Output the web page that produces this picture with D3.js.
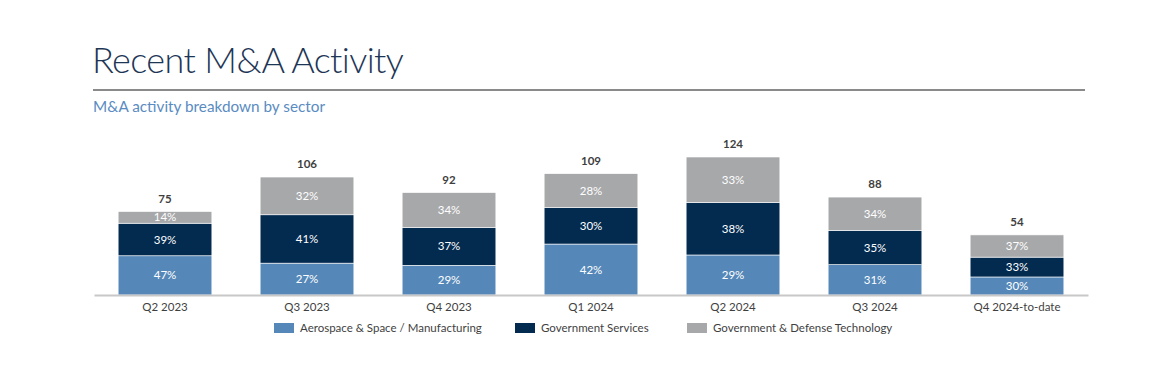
<!DOCTYPE html>
<html><head><meta charset="utf-8">
<script src="https://cdn.jsdelivr.net/npm/d3@7"></script>
<style>
body{margin:0;background:#fff;}
svg{display:block;font-family:"Lato","Open Sans",sans-serif;}
</style></head>
<body><svg id="c" width="1171" height="380"></svg>
<script>
const categories = ["Q2 2023","Q3 2023","Q4 2023","Q1 2024","Q2 2024","Q3 2024","Q4 2024-to-date"];
const totals = [75,106,92,109,124,88,54];
const aerospacePct = [47,27,29,42,29,31,30];
const servicesPct = [39,41,37,30,38,35,33];
const technologyPct = [14,32,34,28,33,34,37];
const seriesNames = ["Aerospace & Space / Manufacturing","Government Services","Government & Defense Technology"];
const colors = ["#5588b8","#032a4f","#a7a8aa"];

const svg = d3.select("#c");
const pcts = [aerospacePct, servicesPct, technologyPct];
const x = d3.scaleBand().domain(categories).range([94,1088]).paddingInner(0.34).paddingOuter(0.17);
const y = d3.scaleLinear().domain([0,124]).range([295,157]);

// title
svg.append("text").attr("x",92).attr("y",73).text("Recent M&A Activity")
  .attr("font-size",36).attr("font-weight",300).attr("letter-spacing","-0.6px").attr("fill","#1e3656");
svg.append("line").attr("x1",93).attr("x2",1085).attr("y1",90).attr("y2",90)
  .attr("stroke","#8a8a8a").attr("stroke-width",2);
svg.append("text").attr("x",93).attr("y",112).text("M&A activity breakdown by sector")
  .attr("font-size",15.3).attr("fill","#5a8cc2");

// stacked data
const rows = categories.map((c,i)=>{
  let acc=0; const segs=[];
  pcts.forEach((p,k)=>{const v=totals[i]*p[i]/100; segs.push({cat:c,k,y0:acc,y1:acc+v,pct:p[i]}); acc+=v;});
  return segs;
});
const g = svg.append("g");
rows.forEach(segs=>{
  segs.forEach(s=>{
    g.append("rect").attr("x",x(s.cat)).attr("width",x.bandwidth())
      .attr("y",y(s.y1)).attr("height",y(s.y0)-y(s.y1))
      .attr("fill",colors[s.k]).attr("stroke","#ffffff").attr("stroke-width",0.6);
    g.append("text").attr("x",x(s.cat)+x.bandwidth()/2).attr("y",(y(s.y0)+y(s.y1))/2)
      .attr("dy","0.35em").attr("text-anchor","middle").attr("font-size",11.5)
      .attr("fill","#ffffff").text(s.pct+"%");
  });
});
categories.forEach((c,i)=>{
  svg.append("text").attr("x",x(c)+x.bandwidth()/2).attr("y",y(totals[i])-9)
    .attr("text-anchor","middle").attr("font-size",11.5).attr("font-weight",700)
    .attr("fill","#3f3f3f").text(totals[i]);
});

// axis
const ax = svg.append("g").attr("transform","translate(0,295)")
  .call(d3.axisBottom(x).tickSize(0).tickPadding(8));
ax.select(".domain").attr("stroke","#c8c8c8").attr("stroke-width",2);
ax.selectAll("text").attr("font-size",11.5).attr("fill","#3f3f3f").attr("font-family","Lato,'Open Sans',sans-serif");

// legend
const legX = [274,515,687];
seriesNames.forEach((n,k)=>{
  svg.append("rect").attr("x",legX[k]).attr("y",323).attr("width",20).attr("height",10).attr("fill",colors[k]);
  svg.append("text").attr("x",legX[k]+26).attr("y",328).attr("dy","0.35em")
    .attr("font-size",11.5).attr("fill","#3f3f3f").text(n);
});
</script></body></html>
